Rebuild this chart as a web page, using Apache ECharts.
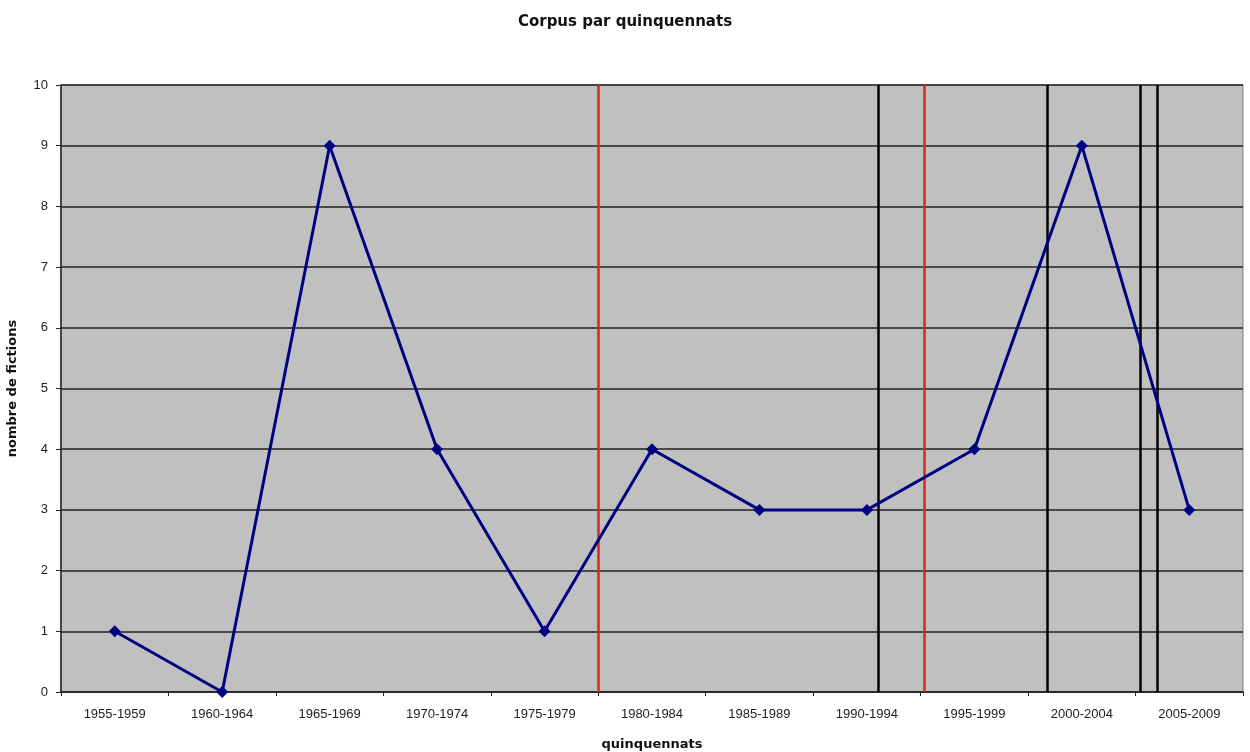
<!DOCTYPE html>
<html><head><meta charset="utf-8">
<script src="https://cdn.jsdelivr.net/npm/echarts@6/dist/echarts.min.js"></script>
<style>html,body{margin:0;padding:0;background:#fff}#c{width:1250px;height:752px}</style>
</head><body><div id="c"></div>
<script>
const categories = ['1955-1959','1960-1964','1965-1969','1970-1974','1975-1979','1980-1984','1985-1989','1990-1994','1995-1999','2000-2004','2005-2009'];
const fictions = [1,0,9,4,1,4,3,3,4,9,3];
const yTicks = [0,1,2,3,4,5,6,7,8,9,10];
// vertical marker positions, in category-band units from the left edge
const redLines = [4.995, 8.025];
const blackLines = [7.606, 9.183, 10.035, 10.197];

const chart = echarts.init(document.getElementById('c'));
const F = '"Liberation Sans", Arial, sans-serif';
const FB = '"DejaVu Sans", Verdana, sans-serif';
function vlines(arr, color){
  return {
    type:'line', xAxisIndex:1, yAxisIndex:0, data:[], symbol:'none', silent:true,
    markLine:{ symbol:'none', silent:true, label:{show:false},
      lineStyle:{color:color, width:2.5, type:'solid'},
      data: arr.map(v=>({xAxis:v})) }
  };
}
chart.setOption({
  animation:false,
  backgroundColor:'#fff',
  title:{text:'Corpus par quinquennats', left:620, top:10, textAlign:'center',
    textStyle:{fontFamily:FB, fontSize:15, fontWeight:'bold', color:'#111'}},
  grid:{left:61, right:7, top:85, bottom:60, containLabel:false, outerBoundsMode:'none',
    show:true, backgroundColor:'#c0c0c0', borderColor:'#808080', borderWidth:1},
  xAxis:[{
    type:'category', data:categories, boundaryGap:true,
    name:'quinquennats', nameLocation:'middle', nameGap:46,
    nameTextStyle:{fontFamily:FB, fontSize:13, fontWeight:'bold', color:'#111'},
    axisLine:{lineStyle:{color:'#222', width:1.5}},
    axisTick:{show:true, length:4, lineStyle:{color:'#222'}},
    axisLabel:{fontFamily:F, fontSize:13, color:'#222', margin:16},
    splitLine:{show:false}
  },{
    type:'value', min:0, max:categories.length, show:false
  }],
  yAxis:{
    type:'value', min:0, max:10, interval:1,
    name:'nombre de fictions', nameLocation:'middle', nameGap:42, nameRotate:90,
    nameTextStyle:{fontFamily:FB, fontSize:13, fontWeight:'bold', color:'#111'},
    axisLine:{show:true, lineStyle:{color:'#222', width:1.5}},
    axisTick:{show:true, length:5, lineStyle:{color:'#222'}},
    axisLabel:{fontFamily:F, fontSize:13, color:'#222', margin:13,
      formatter:v=>yTicks.includes(v)?String(v):''},
    splitLine:{show:true, lineStyle:{color:'#222', width:1.5}}
  },
  series:[
    vlines(redLines, '#d42a1c'),
    vlines(blackLines, '#000'),
    {
      type:'line', data:fictions, xAxisIndex:0, yAxisIndex:0,
      symbol:'diamond', symbolSize:12,
      lineStyle:{color:'#000080', width:3},
      itemStyle:{color:'#000080'},
      z:5
    }
  ]
});
</script></body></html>
